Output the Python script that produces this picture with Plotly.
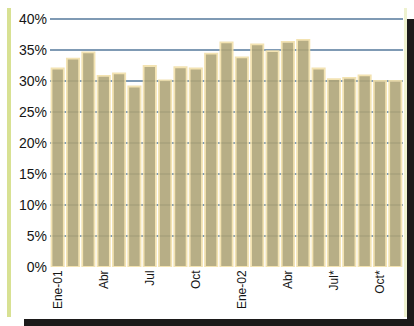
import plotly.graph_objects as go

months = ["Ene-01", "Feb-01", "Mar-01", "Abr-01", "May-01", "Jun-01", "Jul-01", "Ago-01",
          "Sep-01", "Oct-01", "Nov-01", "Dic-01", "Ene-02", "Feb-02", "Mar-02", "Abr-02",
          "May-02", "Jun-02", "Jul-02", "Ago-02", "Sep-02", "Oct-02", "Nov-02"]
values = [32.0, 33.6, 34.6, 30.8, 31.2, 29.1, 32.4, 30.1, 32.2, 32.0, 34.4, 36.2,
          33.8, 35.9, 34.8, 36.3, 36.6, 32.0, 30.3, 30.5, 30.9, 30.0, 30.0]
tick_months = ["Ene-01", "Abr-01", "Jul-01", "Oct-01", "Ene-02", "Abr-02", "Jul-02", "Oct-02"]
tick_labels = ["Ene-01", "Abr", "Jul", "Oct", "Ene-02", "Abr", "Jul*", "Oct*"]
y_ticks = [0, 5, 10, 15, 20, 25, 30, 35, 40]

W, H = 353, 250  # plot area size in px

fig = go.Figure()
fig.add_trace(go.Bar(
    x=months, y=values,
    marker=dict(color="#b0a679", line=dict(color="#f2e0aa", width=1.8)),
    opacity=0.9,
    hoverinfo="skip",
))

fig.update_layout(
    width=414, height=326,
    margin=dict(l=50, r=11, t=17, b=59),
    paper_bgcolor="white",
    plot_bgcolor="white",
    showlegend=False,
    bargap=0.2,
    font=dict(family="Liberation Sans", color="#1e1e1e"),
    shapes=[
        dict(type="rect", xref="paper", yref="paper", x0=-43/W, x1=-39/W,
             y0=-50/H, y1=1 + 9/H, fillcolor="#d8e193", line_width=0, layer="below"),
        dict(type="rect", xref="paper", yref="paper", x0=1 + 1/W, x1=1 + 4/W,
             y0=-50/H, y1=1 + 9/H, fillcolor="#eef2cf", line_width=0, layer="below"),
        dict(type="rect", xref="paper", yref="paper", x0=1 + 4/W, x1=1 + 12/W,
             y0=-60/H, y1=1 - 2/H, fillcolor="#1c1a1a", line_width=0, layer="above"),
        dict(type="rect", xref="paper", yref="paper", x0=-26/W, x1=1 + 12/W,
             y0=-60/H, y1=-52/H, fillcolor="#1c1a1a", line_width=0, layer="above"),
    ],
)
fig.update_yaxes(
    range=[0, 40.3], tickvals=y_ticks, ticktext=[f"{v}%" for v in y_ticks],
    showgrid=True, gridcolor="#7f9ab4", gridwidth=1.5,
    zeroline=False, showline=False, ticks="",
    tickfont=dict(size=14, family="Liberation Sans Narrow, Liberation Sans", color="#151515"),
    ticklabelstandoff=2,
)
fig.update_xaxes(
    tickvals=tick_months, ticktext=tick_labels, tickangle=-90,
    showgrid=False, showline=False, ticks="",
    tickfont=dict(size=12, family="Liberation Sans", color="#151515"),
)
fig.write_html("out.html")
